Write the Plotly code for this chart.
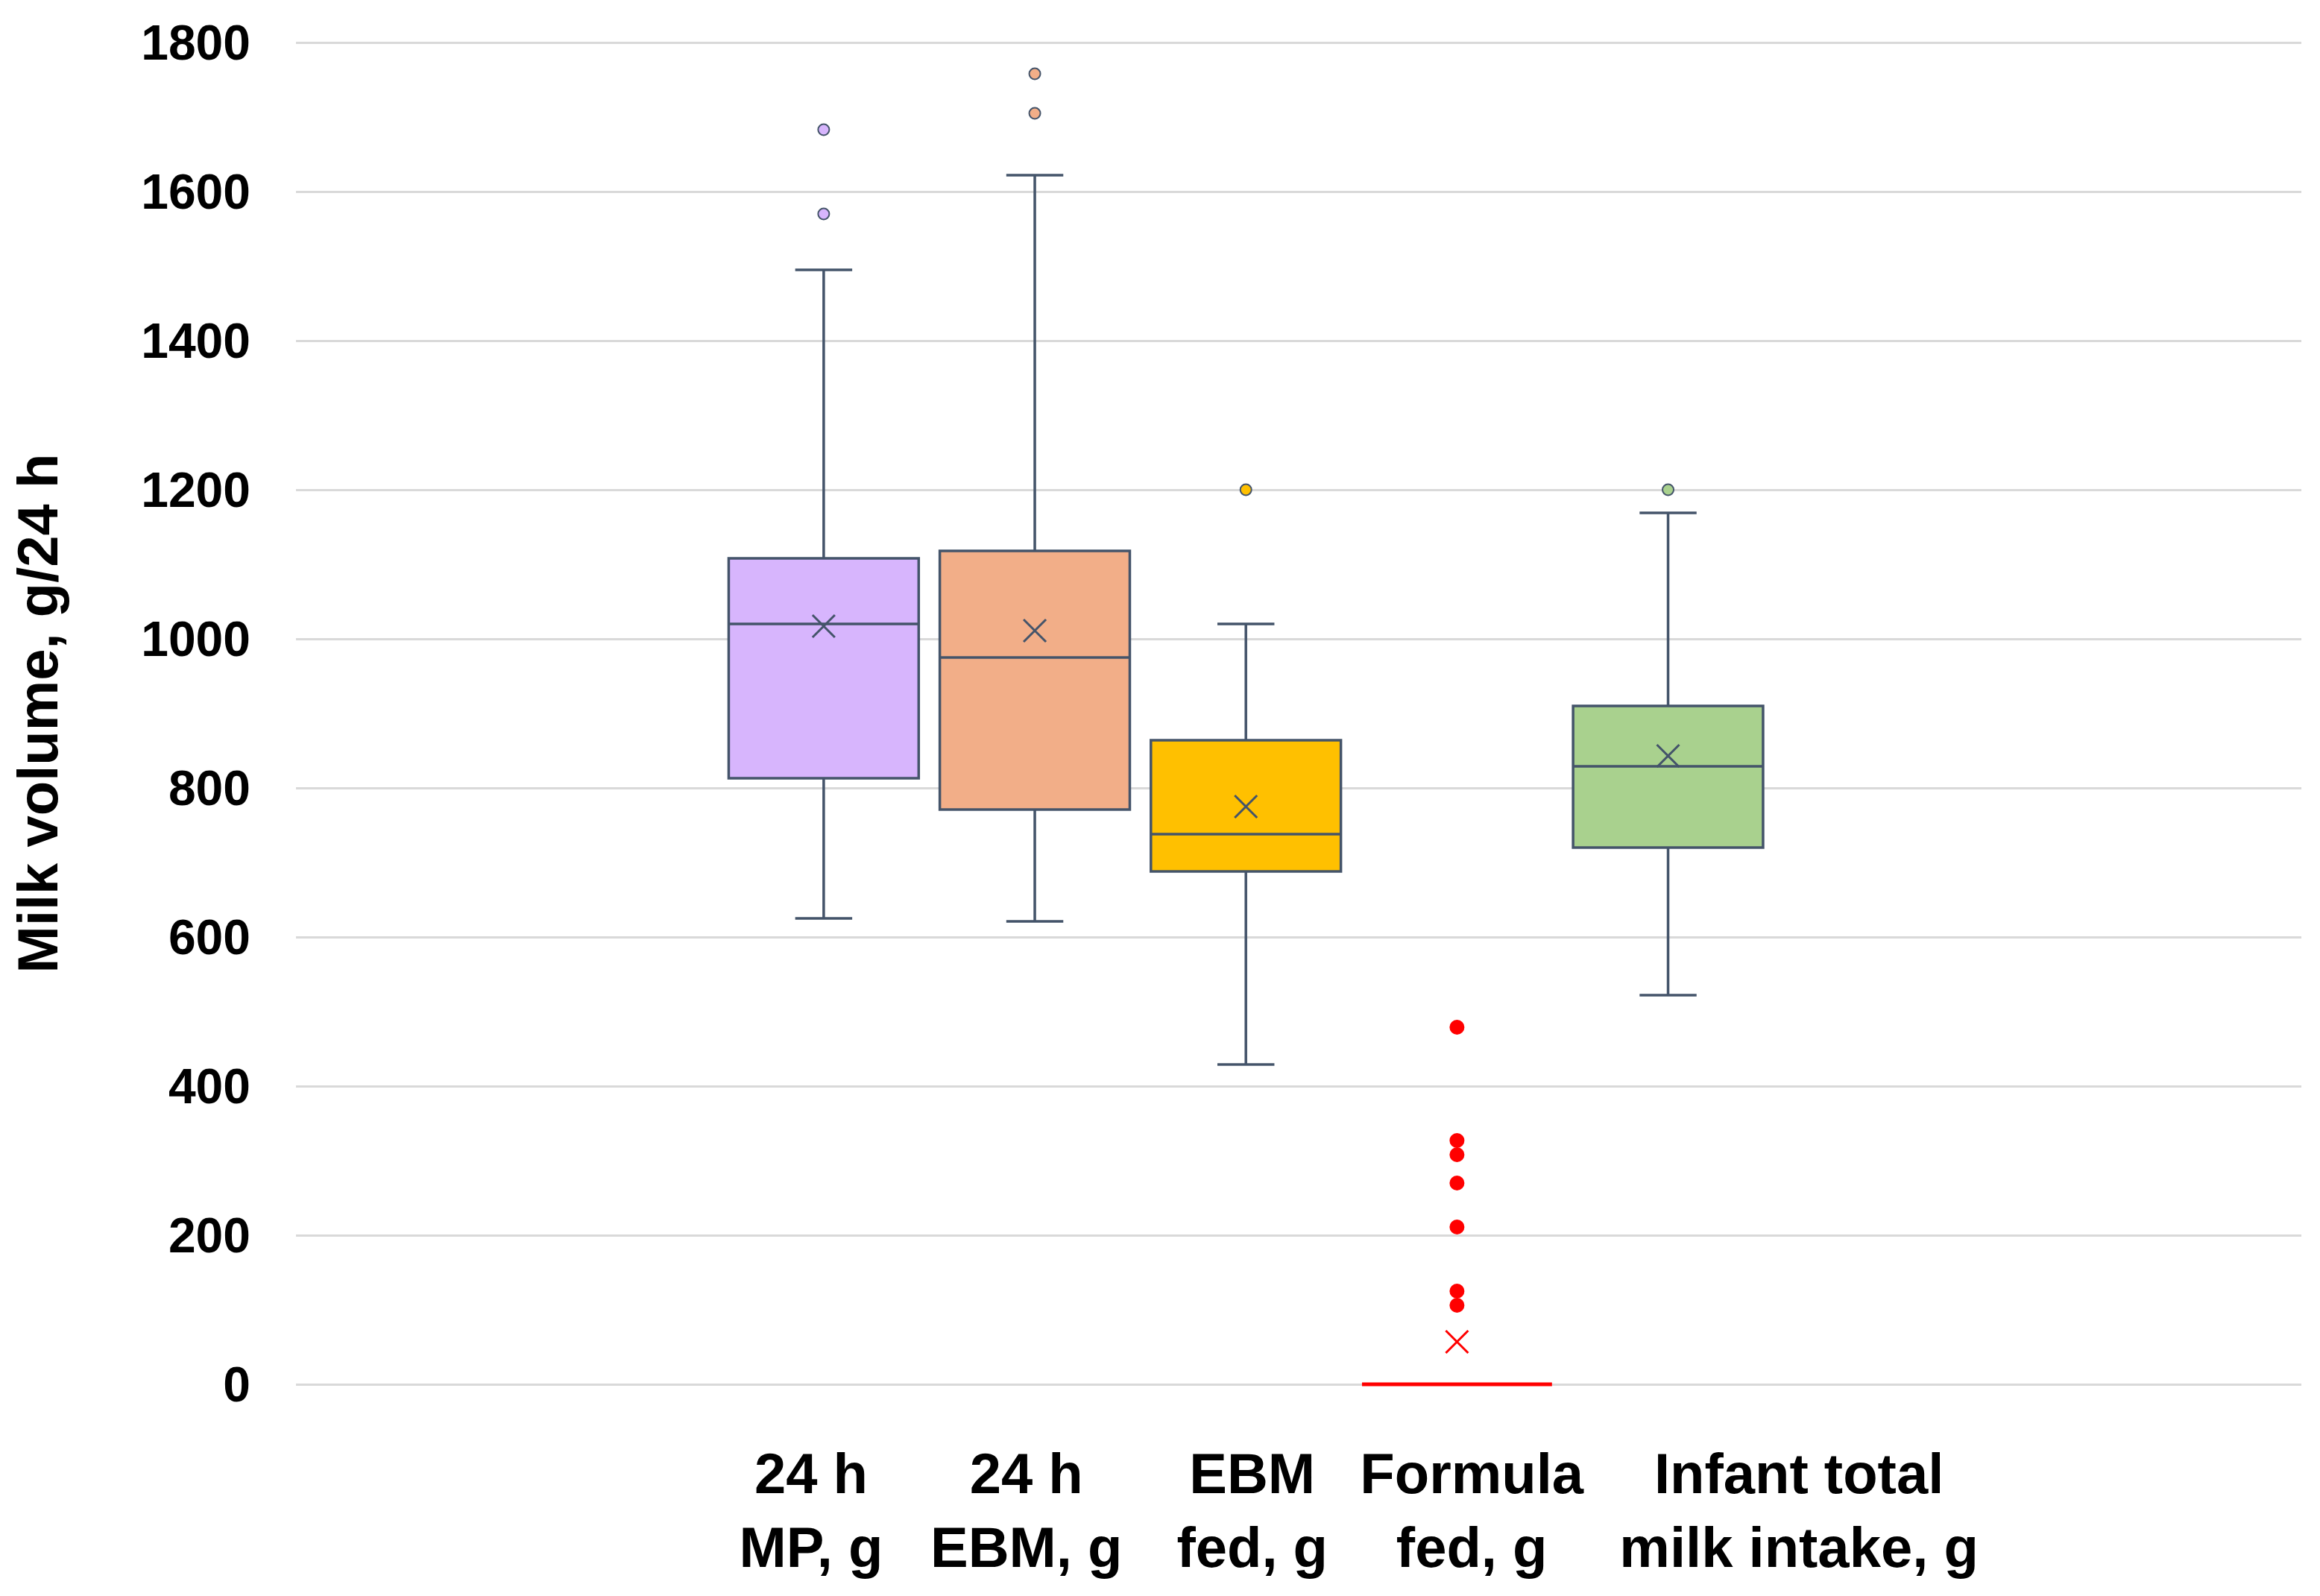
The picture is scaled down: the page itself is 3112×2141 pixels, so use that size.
import plotly.graph_objects as go

# category labels and where their wrapped text sits under the boxes
labels = ["24 h<br>MP, g", "24 h<br>EBM, g", "EBM<br>fed, g", "Formula<br>fed, g",
          "Infant total<br>milk intake, g"]
label_pos = [-0.06, 0.96, 2.03, 3.07, 4.62]

# summary stats (g/24 h)
q1 = [813, 771, 688, 0, 720]
median = [1020, 975, 738, 0, 829]
q3 = [1108, 1118, 864, 0, 910]
lower = [625, 621, 429, 0, 522]
upper = [1495, 1622, 1020, 0, 1169]
means = [1017, 1011, 775, 57, 843]
outliers = [
    [1683, 1570],
    [1758, 1705],
    [1200],
    [479, 327, 308, 270, 211, 125, 106],
    [1200],
]

fills = ["#D7B5FD", "#F2AE88", "#FFC000", "#FF0000", "#A9D18E"]
edge = "#44546A"
red = "#FF0000"

fig = go.Figure()

for i in range(len(labels)):
    is_formula = i == 3
    line_col = red if is_formula else edge
    fig.add_trace(
        go.Box(
            x=[i],
            q1=[q1[i]],
            median=[median[i]],
            q3=[q3[i]],
            lowerfence=[lower[i]],
            upperfence=[upper[i]],
            width=0.9,
            whiskerwidth=0.3,
            fillcolor=fills[i],
            line=dict(color=line_col, width=5 if is_formula else 3.5),
            boxpoints=False,
            hoverinfo="skip",
        )
    )
    # outliers
    fig.add_trace(
        go.Scatter(
            x=[i] * len(outliers[i]),
            y=outliers[i],
            mode="markers",
            marker=dict(
                symbol="circle",
                size=20 if is_formula else 15,
                color=fills[i],
                line=dict(color=red if is_formula else edge, width=0 if is_formula else 2),
            ),
        )
    )
    # mean
    fig.add_trace(
        go.Scatter(
            x=[i],
            y=[means[i]],
            mode="markers",
            marker=dict(symbol="x-thin", size=30, line=dict(color=line_col, width=3)),
        )
    )

font = dict(family="Arial, Liberation Sans, sans-serif", color="black", weight="bold")

fig.update_layout(
    width=3112,
    height=2141,
    showlegend=False,
    plot_bgcolor="white",
    paper_bgcolor="white",
    margin=dict(l=389, r=33, t=25, b=272),
    font=font,
)
fig.update_xaxes(
    range=[-2.5, 7.0],
    tickvals=label_pos,
    ticktext=labels,
    tickfont=dict(size=76, **font),
    showgrid=False,
    zeroline=False,
    showline=False,
    ticks="",
    ticklabelstandoff=49,
)
fig.update_yaxes(
    range=[-20, 1820],
    tickvals=list(range(0, 1801, 200)),
    tickfont=dict(size=66, **font),
    showgrid=True,
    gridcolor="#D9D9D9",
    gridwidth=3,
    zeroline=True,
    zerolinecolor="#D9D9D9",
    zerolinewidth=3,
    showline=False,
    ticks="",
    ticklabelstandoff=60,
    title=dict(text="Milk volume, g/24 h", font=dict(size=76, **font), standoff=90),
)

fig.write_html("out.html")
